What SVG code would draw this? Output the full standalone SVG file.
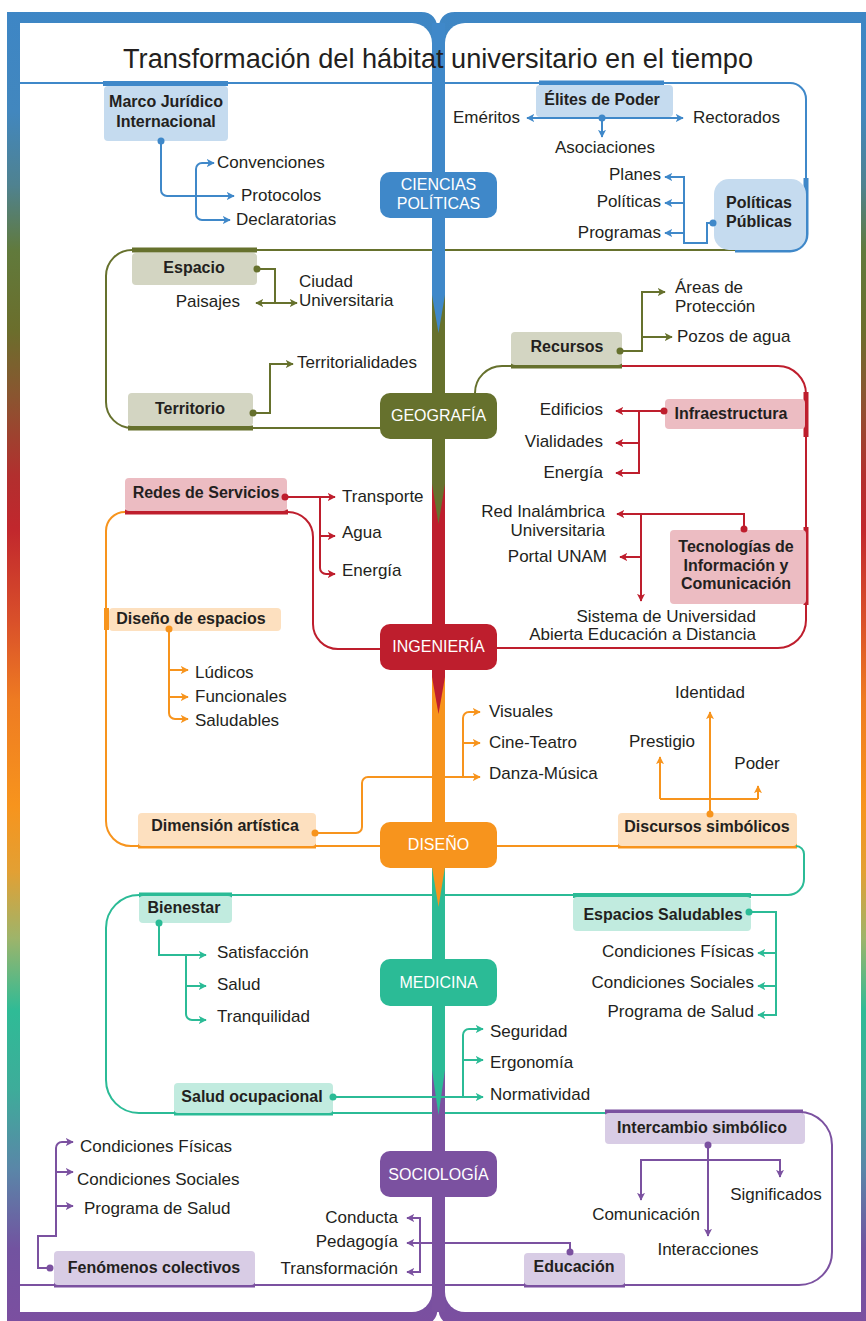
<svg xmlns="http://www.w3.org/2000/svg" width="866" height="1321" viewBox="0 0 866 1321">
<defs>
<linearGradient id="fg" gradientUnits="userSpaceOnUse" x1="0" y1="0" x2="0" y2="1321">
<stop offset="0" stop-color="#3d86c6"/>
<stop offset="0.085" stop-color="#4287be"/>
<stop offset="0.14" stop-color="#4f8290"/>
<stop offset="0.19" stop-color="#617a3c"/>
<stop offset="0.25" stop-color="#6b6e2c"/>
<stop offset="0.30" stop-color="#8a5530"/>
<stop offset="0.36" stop-color="#b22f2e"/>
<stop offset="0.40" stop-color="#c1272d"/>
<stop offset="0.47" stop-color="#d9502a"/>
<stop offset="0.53" stop-color="#ee7b22"/>
<stop offset="0.61" stop-color="#f7941d"/>
<stop offset="0.66" stop-color="#e2a034"/>
<stop offset="0.71" stop-color="#9eb46a"/>
<stop offset="0.765" stop-color="#2fbb96"/>
<stop offset="0.825" stop-color="#3eac9a"/>
<stop offset="0.885" stop-color="#5a86a8"/>
<stop offset="0.945" stop-color="#7253a0"/>
<stop offset="1" stop-color="#7b4fa0"/>
</linearGradient>
<marker id="ab" viewBox="0 0 10 10" refX="9" refY="5" markerWidth="8" markerHeight="8" markerUnits="userSpaceOnUse" orient="auto"><path d="M0,0 L10,5 L0,10 L2.5,5 Z" fill="#3f88c9"/></marker>
<marker id="ao" viewBox="0 0 10 10" refX="9" refY="5" markerWidth="8" markerHeight="8" markerUnits="userSpaceOnUse" orient="auto"><path d="M0,0 L10,5 L0,10 L2.5,5 Z" fill="#66712d"/></marker>
<marker id="ar" viewBox="0 0 10 10" refX="9" refY="5" markerWidth="8" markerHeight="8" markerUnits="userSpaceOnUse" orient="auto"><path d="M0,0 L10,5 L0,10 L2.5,5 Z" fill="#be1e2d"/></marker>
<marker id="an" viewBox="0 0 10 10" refX="9" refY="5" markerWidth="8" markerHeight="8" markerUnits="userSpaceOnUse" orient="auto"><path d="M0,0 L10,5 L0,10 L2.5,5 Z" fill="#f7941d"/></marker>
<marker id="at" viewBox="0 0 10 10" refX="9" refY="5" markerWidth="8" markerHeight="8" markerUnits="userSpaceOnUse" orient="auto"><path d="M0,0 L10,5 L0,10 L2.5,5 Z" fill="#2bbb96"/></marker>
<marker id="ap" viewBox="0 0 10 10" refX="9" refY="5" markerWidth="8" markerHeight="8" markerUnits="userSpaceOnUse" orient="auto"><path d="M0,0 L10,5 L0,10 L2.5,5 Z" fill="#7b51a0"/></marker>
<style>
text{font-family:"Liberation Sans",Arial,sans-serif;fill:#231f20;font-size:17px}
.b{font-weight:bold;font-size:16px;text-anchor:middle}
.m{fill:#fff;font-size:16px;text-anchor:middle}
.e{text-anchor:end}
.c{text-anchor:middle}
.ln{fill:none;stroke-width:2}
.th{fill:none;stroke-width:5}
.cn{fill:none;stroke-width:2}
.B{stroke:#3f88c9}.O{stroke:#66712d}.R{stroke:#be1e2d}.N{stroke:#f7941d}.T{stroke:#2bbb96}.P{stroke:#7b51a0}
.mb{fill:#3f88c9}.mo{fill:#66712d}.mr{fill:#be1e2d}.mn{fill:#f7941d}.mt{fill:#2bbb96}.mp{fill:#7b51a0}
.lb{fill:#c5dbef}.lo{fill:#d3d5c2}.lr{fill:#ecbcc2}.lnf{fill:#fde0bf}.lt{fill:#c1ebdf}.lp{fill:#d8cce5}
</style>
</defs>
<rect width="866" height="1321" fill="#fff"/>
<g id="frame">
<path fill="url(#fg)" d="M7,12 H421 Q438,12 438,33 Q438,12 455,12 H874 V1325 H455 Q438,1325 438,1305 Q438,1325 421,1325 H7 Z"/>
<path fill="#fff" d="M20,23 H412 A20,20 0 0 1 432,43 V1292 A20,20 0 0 1 412,1312 H20 Z"/>
<path fill="#fff" d="M465,23 H861 V1312 H465 A20,20 0 0 1 445,1292 V43 A20,20 0 0 1 465,23 Z"/>
</g>
<g id="spine">
<rect x="432" y="23" width="13" height="275" fill="#3f88c9"/>
<rect x="432" y="295" width="13" height="192" fill="#66712d"/>
<rect x="432" y="484" width="13" height="196" fill="#be1e2d"/>
<rect x="432" y="677" width="13" height="193" fill="#f7941d"/>
<rect x="432" y="867" width="13" height="206" fill="#2bbb96"/>
<rect x="432" y="1070" width="13" height="242" fill="#7b51a0"/>
<path d="M432,295 H445 L438.5,333 Z" fill="#3f88c9"/>
<path d="M432,484 H445 L438.5,524 Z" fill="#66712d"/>
<path d="M432,677 H445 L438.5,714 Z" fill="#be1e2d"/>
<path d="M432,867 H445 L438.5,907 Z" fill="#f7941d"/>
<path d="M432,1070 H445 L438.5,1115 Z" fill="#2bbb96"/>
</g>
<text x="438" y="68" font-size="27" text-anchor="middle" textLength="630" lengthAdjust="spacingAndGlyphs" style="font-size:27px">Transformación del hábitat universitario en el tiempo</text>
<g id="enclosures">
<path class="ln B" d="M20,83 H432"/>
<path class="ln B" d="M445,83 H790 A16,16 0 0 1 806,99 V234 A16,16 0 0 1 790,250 H735"/>
<path class="th B" d="M806,178 V234 A16,16 0 0 1 790,250 H735"/>
<path class="th B" d="M103,83.5 H228"/>
<path class="th B" d="M539,83 H664"/>
<path class="ln O" d="M257,250 H432 M445,250 H735"/>
<path class="ln O" d="M132,250 A26,26 0 0 0 106,276 V402 A26,26 0 0 0 132,428 H380"/>
<path class="th O" d="M132,250 H257 M128,428 H253"/>
<path class="ln O" d="M475,393 A27,27 0 0 1 502,366 H511"/>
<path class="th O" d="M511,366 H622"/>
<path class="ln R" d="M622,366 H778 A28,28 0 0 1 806,394 V620 A28,28 0 0 1 778,648 H497"/>
<path class="th R" d="M806,392 V437 M806,527 V605"/>
<path class="ln R" d="M288,512 A25,25 0 0 1 313,537 V624 A25,25 0 0 0 338,649 H380"/>
<path class="th R" d="M125,512 H288"/>
<path class="ln N" d="M125,512 A19,19 0 0 0 106,531 V821 A25,25 0 0 0 131,846 H380 M497,846 H618"/>
<path class="th N" d="M138,846 H316 M618,846 H797 M106.5,608 V630"/>
<path class="ln T" d="M796,846 A8,8 0 0 1 804,854 V879 A16,16 0 0 1 788,895 H445"/>
<path class="ln T" d="M432,895 H139 A33,33 0 0 0 106,928 V1080 A33,33 0 0 0 139,1113 H432 M445,1113 H605"/>
<path class="th T" d="M139,895 H232 M174,1113 H333 M573,895.5 H751"/>
<path class="ln P" d="M605,1112 H799 A33,33 0 0 1 832,1145 V1252 A33,33 0 0 1 799,1285 H445"/>
<path class="ln P" d="M20,1285 H432"/>
<path class="th P" d="M605,1112 H803 M524,1285 H625 M54,1285 H255"/>
</g>
<g id="main-nodes">
<g id="ciencias-politicas"><rect x="380" y="172" width="117" height="46" rx="10" class="mb"/><text class="m" x="438.5" y="190">CIENCIAS</text><text class="m" x="438.5" y="209">POLÍTICAS</text></g>
<g id="geografia"><rect x="380" y="393" width="117" height="46" rx="10" class="mo"/><text class="m" x="438.5" y="421">GEOGRAFÍA</text></g>
<g id="ingenieria"><rect x="380" y="624" width="117" height="46" rx="10" class="mr"/><text class="m" x="438.5" y="652">INGENIERÍA</text></g>
<g id="diseno"><rect x="380" y="822" width="117" height="46" rx="10" class="mn"/><text class="m" x="438.5" y="850">DISEÑO</text></g>
<g id="medicina"><rect x="380" y="959" width="117" height="47" rx="10" class="mt"/><text class="m" x="438.5" y="988">MEDICINA</text></g>
<g id="sociologia"><rect x="380" y="1151" width="117" height="46" rx="10" class="mp"/><text class="m" x="438.5" y="1180">SOCIOLOGÍA</text></g>
</g>
<g id="nodes">
<g id="marco"><rect x="104" y="86" width="124" height="55" rx="4" class="lb"/><text class="b" x="166" y="107">Marco Jurídico</text><text class="b" x="166" y="127">Internacional</text></g>
<g id="elites"><rect x="536" y="85" width="137" height="32" rx="4" class="lb"/><text class="b" x="602" y="105">Élites de Poder</text></g>
<g id="politicas-publicas"><rect x="714" y="179" width="92" height="71" rx="15" class="lb"/><text class="b" x="759" y="208">Políticas</text><text class="b" x="759" y="227">Públicas</text></g>
<g id="espacio"><rect x="132" y="253" width="125" height="32" rx="4" class="lo"/><text class="b" x="194" y="273">Espacio</text></g>
<g id="territorio"><rect x="128" y="393" width="125" height="33" rx="4" class="lo"/><text class="b" x="190" y="414">Territorio</text></g>
<g id="recursos"><rect x="511" y="332" width="111" height="33" rx="4" class="lo"/><text class="b" x="567" y="352">Recursos</text></g>
<g id="infraestructura"><rect x="665" y="399" width="140" height="30" rx="4" class="lr"/><text class="b" x="731" y="419">Infraestructura</text></g>
<g id="tic"><rect x="670" y="530" width="136" height="74" rx="4" class="lr"/><text class="b" x="736" y="552">Tecnologías de</text><text class="b" x="736" y="571">Información y</text><text class="b" x="736" y="589">Comunicación</text></g>
<g id="redes"><rect x="125" y="478" width="162" height="33" rx="4" class="lr"/><text class="b" x="206" y="498">Redes de Servicios</text></g>
<g id="diseno-espacios"><rect x="109" y="608" width="172" height="23" rx="4" class="lnf"/><text class="b" x="191" y="624">Diseño de espacios</text></g>
<g id="dimension"><rect x="138" y="813" width="178" height="33" rx="4" class="lnf"/><text class="b" x="225" y="831">Dimensión artística</text></g>
<g id="discursos"><rect x="618" y="813" width="179" height="33" rx="4" class="lnf"/><text class="b" x="707" y="832">Discursos simbólicos</text></g>
<g id="bienestar"><rect x="139" y="896" width="93" height="27" rx="4" class="lt"/><text class="b" x="184" y="913">Bienestar</text></g>
<g id="salud-ocupacional"><rect x="174" y="1083" width="159" height="30" rx="4" class="lt"/><text class="b" x="252" y="1102">Salud ocupacional</text></g>
<g id="espacios-saludables"><rect x="573" y="897" width="178" height="34" rx="4" class="lt"/><text class="b" x="663" y="920">Espacios Saludables</text></g>
<g id="intercambio"><rect x="605" y="1113" width="200" height="31" rx="4" class="lp"/><text class="b" x="702" y="1133">Intercambio simbólico</text></g>
<g id="fenomenos"><rect x="54" y="1251" width="201" height="34" rx="4" class="lp"/><text class="b" x="154" y="1273">Fenómenos colectivos</text></g>
<g id="educacion"><rect x="524" y="1253" width="101" height="32" rx="4" class="lp"/><text class="b" x="574" y="1272">Educación</text></g>
</g>
<g id="connectors">
<g id="c-blue">
<path class="cn B" d="M161,141 V190 A6,6 0 0 0 167,196 H234" marker-end="url(#ab)"/>
<path class="cn B" d="M196,196 V169 A6,6 0 0 1 202,163 H214" marker-end="url(#ab)"/>
<path class="cn B" d="M196,196 V214 A6,6 0 0 0 202,220 H230" marker-end="url(#ab)"/>
<circle cx="161" cy="141" r="3.5" class="mb"/>
<path class="cn B" d="M602,118 H527" marker-end="url(#ab)"/>
<path class="cn B" d="M602,118 H683" marker-end="url(#ab)"/>
<path class="cn B" d="M602,118 V137" marker-end="url(#ab)"/>
<circle cx="602" cy="118" r="3.5" class="mb"/>
<path class="cn B" d="M713,223 H707 V243 H684 V177 H665" marker-end="url(#ab)"/>
<path class="cn B" d="M684,203 H665" marker-end="url(#ab)"/>
<path class="cn B" d="M684,233 H665" marker-end="url(#ab)"/>
<circle cx="713" cy="223" r="3.5" class="mb"/>
</g>
<g id="c-olive">
<path class="cn O" d="M257,269 H275 V303 H256" marker-end="url(#ao)"/>
<path class="cn O" d="M275,303 H297" marker-end="url(#ao)"/>
<circle cx="257" cy="269" r="3.5" class="mo"/>
<path class="cn O" d="M253,413 H270 V364 H293" marker-end="url(#ao)"/>
<circle cx="253" cy="413" r="3.5" class="mo"/>
<path class="cn O" d="M620,351 H642 V292 H665" marker-end="url(#ao)"/>
<path class="cn O" d="M642,337 H672" marker-end="url(#ao)"/>
<circle cx="620" cy="351" r="3.5" class="mo"/>
</g>
<g id="c-red">
<path class="cn R" d="M664,411 H616" marker-end="url(#ar)"/>
<path class="cn R" d="M639,411 V473 H616" marker-end="url(#ar)"/>
<path class="cn R" d="M639,443 H616" marker-end="url(#ar)"/>
<circle cx="664" cy="411" r="3.5" class="mr"/>
<path class="cn R" d="M744,529 V514 H617" marker-end="url(#ar)"/>
<path class="cn R" d="M641,514 V601" marker-end="url(#ar)"/>
<path class="cn R" d="M641,557 H620" marker-end="url(#ar)"/>
<circle cx="744" cy="529" r="3.5" class="mr"/>
<path class="cn R" d="M285,497 H335" marker-end="url(#ar)"/>
<path class="cn R" d="M320,497 V568 A6,6 0 0 0 326,574 H335" marker-end="url(#ar)"/>
<path class="cn R" d="M320,536 H335" marker-end="url(#ar)"/>
<circle cx="285" cy="497" r="3.5" class="mr"/>
</g>
<g id="c-orange">
<path class="cn N" d="M169,629 V713 A6,6 0 0 0 175,719 H188" marker-end="url(#an)"/>
<path class="cn N" d="M169,670 H188" marker-end="url(#an)"/>
<path class="cn N" d="M169,697 H188" marker-end="url(#an)"/>
<circle cx="169" cy="629" r="3.5" class="mn"/>
<path class="cn N" d="M315,833 H356 A6,6 0 0 0 362,827 V783 A6,6 0 0 1 368,777 H480" marker-end="url(#an)"/>
<path class="cn N" d="M463,777 V718 A6,6 0 0 1 469,712 H480" marker-end="url(#an)"/>
<path class="cn N" d="M463,743 H480" marker-end="url(#an)"/>
<circle cx="315" cy="833" r="3.5" class="mn"/>
<path class="cn N" d="M710,814 V712" marker-end="url(#an)"/>
<path class="cn N" d="M660,799 H758"/>
<path class="cn N" d="M660,799 V757" marker-end="url(#an)"/>
<path class="cn N" d="M758,799 V786" marker-end="url(#an)"/>
<circle cx="710" cy="814" r="3.5" class="mn"/>
</g>
<g id="c-teal">
<path class="cn T" d="M159,923 V955 H206" marker-end="url(#at)"/>
<path class="cn T" d="M186,955 V1014 A6,6 0 0 0 192,1020 H206" marker-end="url(#at)"/>
<path class="cn T" d="M186,986 H206" marker-end="url(#at)"/>
<circle cx="159" cy="923" r="3.5" class="mt"/>
<path class="cn T" d="M333,1097 H483" marker-end="url(#at)"/>
<path class="cn T" d="M463,1097 V1035 A6,6 0 0 1 469,1029 H483" marker-end="url(#at)"/>
<path class="cn T" d="M463,1060 H483" marker-end="url(#at)"/>
<circle cx="333" cy="1097" r="3.5" class="mt"/>
<path class="cn T" d="M749,912 H776 V1015 H758" marker-end="url(#at)"/>
<path class="cn T" d="M776,953 H758" marker-end="url(#at)"/>
<path class="cn T" d="M776,986 H758" marker-end="url(#at)"/>
<circle cx="749" cy="912" r="3.5" class="mt"/>
</g>
<g id="c-purple">
<path class="cn P" d="M50,1268 H38 V1236 H56 V1148 A6,6 0 0 1 62,1142 H73" marker-end="url(#ap)"/>
<path class="cn P" d="M56,1172 H73" marker-end="url(#ap)"/>
<path class="cn P" d="M56,1206 H73" marker-end="url(#ap)"/>
<circle cx="50" cy="1268" r="3.5" class="mp"/>
<path class="cn P" d="M570,1252 V1243 H407" marker-end="url(#ap)"/>
<path class="cn P" d="M420,1243 V1218 H407" marker-end="url(#ap)"/>
<path class="cn P" d="M420,1243 V1272 H407" marker-end="url(#ap)"/>
<circle cx="570" cy="1252" r="3.5" class="mp"/>
<path class="cn P" d="M708,1145 V1236" marker-end="url(#ap)"/>
<path class="cn P" d="M708,1160 H641 V1200" marker-end="url(#ap)"/>
<path class="cn P" d="M708,1160 H780 V1177" marker-end="url(#ap)"/>
<circle cx="708" cy="1145" r="3.5" class="mp"/>
</g>
</g>
<g id="labels">
<text x="217" y="168">Convenciones</text>
<text x="241" y="201">Protocolos</text>
<text x="236" y="225">Declaratorias</text>
<text class="e" x="520" y="123">Eméritos</text>
<text x="693" y="123">Rectorados</text>
<text class="c" x="605" y="153">Asociaciones</text>
<text class="e" x="661" y="180">Planes</text>
<text class="e" x="661" y="207">Políticas</text>
<text class="e" x="661" y="238">Programas</text>
<text x="299" y="287">Ciudad</text>
<text x="299" y="306">Universitaria</text>
<text class="e" x="240" y="307">Paisajes</text>
<text x="297" y="368">Territorialidades</text>
<text x="675" y="293">Áreas de</text>
<text x="675" y="312">Protección</text>
<text x="677" y="342">Pozos de agua</text>
<text class="e" x="603" y="415">Edificios</text>
<text class="e" x="603" y="447">Vialidades</text>
<text class="e" x="603" y="478">Energía</text>
<text x="342" y="502">Transporte</text>
<text x="342" y="538">Agua</text>
<text x="342" y="576">Energía</text>
<text class="e" x="605" y="517">Red Inalámbrica</text>
<text class="e" x="605" y="536">Universitaria</text>
<text class="e" x="607" y="562">Portal UNAM</text>
<text class="e" x="756" y="622">Sistema de Universidad</text>
<text class="e" x="756" y="640">Abierta Educación a Distancia</text>
<text x="195" y="678">Lúdicos</text>
<text x="195" y="702">Funcionales</text>
<text x="195" y="726">Saludables</text>
<text x="489" y="717">Visuales</text>
<text x="489" y="748">Cine-Teatro</text>
<text x="489" y="779">Danza-Música</text>
<text class="c" x="710" y="698">Identidad</text>
<text class="c" x="662" y="747">Prestigio</text>
<text class="c" x="757" y="769">Poder</text>
<text x="217" y="958">Satisfacción</text>
<text x="217" y="990">Salud</text>
<text x="217" y="1022">Tranquilidad</text>
<text class="e" x="754" y="957">Condiciones Físicas</text>
<text class="e" x="754" y="988">Condiciones Sociales</text>
<text class="e" x="754" y="1017">Programa de Salud</text>
<text x="490" y="1037">Seguridad</text>
<text x="490" y="1068">Ergonomía</text>
<text x="490" y="1100">Normatividad</text>
<text x="80" y="1152">Condiciones Físicas</text>
<text x="77" y="1185">Condiciones Sociales</text>
<text x="84" y="1214">Programa de Salud</text>
<text class="e" x="398" y="1223">Conducta</text>
<text class="e" x="398" y="1247">Pedagogía</text>
<text class="e" x="398" y="1274">Transformación</text>
<text class="c" x="646" y="1220">Comunicación</text>
<text class="c" x="708" y="1255">Interacciones</text>
<text class="c" x="776" y="1200">Significados</text>
</g>
</svg>
